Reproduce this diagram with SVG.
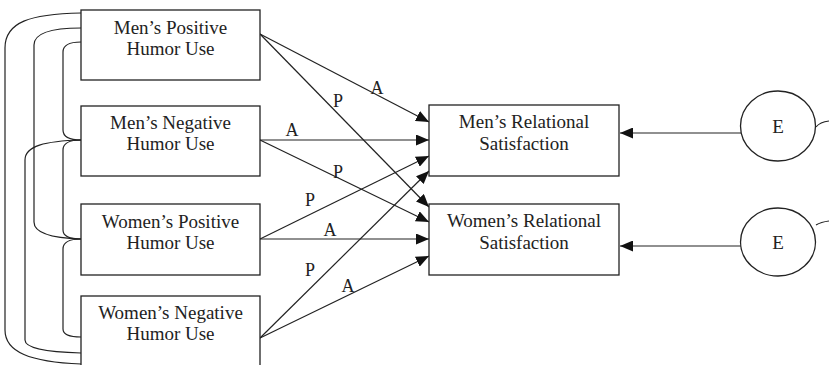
<svg xmlns="http://www.w3.org/2000/svg" width="829" height="365" viewBox="0 0 829 365">
<style>
.box{fill:#fff;stroke:#222;stroke-width:1.3}
.lbl{font-family:"Liberation Serif","DejaVu Serif",serif;font-size:19px;fill:#222;text-anchor:middle}
.pa{font-family:"Liberation Serif","DejaVu Serif",serif;font-size:18px;fill:#222;text-anchor:middle}
.ln{fill:none;stroke:#222;stroke-width:1.2}
</style>
<defs>
<marker id="ah" markerUnits="userSpaceOnUse" markerWidth="13" markerHeight="11" refX="13" refY="5.5" orient="auto">
<path d="M0,0 L13,5.5 L0,11 z" fill="#111"/>
</marker>
</defs>
<rect width="829" height="365" fill="#fff"/>
<g id="connectors">
<path class="ln" d="M81,13 C30,14 5,22 5,48 V330 C5,352 30,362 81,364"/>
<path class="ln" d="M81,28 C50,28 34,33 34,45 V222 C34,233 50,238 81,239"/>
<path class="ln" d="M81,42 C70,42 63,45 63,52 V130 C63,137 70,140 81,140"/>
<path class="ln" d="M81,140 C45,141 25,146 25,160 V340 C25,348 45,352 81,353"/>
<path class="ln" d="M81,140 C70,140 63,143 63,150 V230 C63,236 70,239 81,239"/>
<path class="ln" d="M81,239 C70,239 63,242 63,249 V329 C63,335 70,337 81,337"/>
<line class="ln" x1="260" y1="34" x2="429" y2="122" marker-end="url(#ah)"/>
<line class="ln" x1="260" y1="34" x2="429" y2="207" marker-end="url(#ah)"/>
<line class="ln" x1="260" y1="140" x2="429" y2="140" marker-end="url(#ah)"/>
<line class="ln" x1="260" y1="140" x2="429" y2="222" marker-end="url(#ah)"/>
<line class="ln" x1="260" y1="239" x2="429" y2="156" marker-end="url(#ah)"/>
<line class="ln" x1="260" y1="239" x2="429" y2="239" marker-end="url(#ah)"/>
<line class="ln" x1="260" y1="338" x2="429" y2="171" marker-end="url(#ah)"/>
<line class="ln" x1="260" y1="338" x2="429" y2="256" marker-end="url(#ah)"/>
<line class="ln" x1="741" y1="133" x2="620" y2="133" marker-end="url(#ah)"/>
<line class="ln" x1="741" y1="246" x2="620" y2="246" marker-end="url(#ah)"/>
<path class="ln" d="M816,127 Q820,122 829,121"/>
<path class="ln" d="M816,225 Q821,222 829,221"/>
<text class="pa" x="377" y="94">A</text>
<text class="pa" x="338" y="107">P</text>
<text class="pa" x="292" y="136">A</text>
<text class="pa" x="338" y="178">P</text>
<text class="pa" x="310" y="206">P</text>
<text class="pa" x="330" y="236">A</text>
<text class="pa" x="310" y="276">P</text>
<text class="pa" x="348" y="292">A</text>
</g>
<g id="mpos"><rect class="box" x="81" y="10" width="179" height="70"/><text class="lbl" x="170.5" y="34">Men’s Positive</text><text class="lbl" x="170.5" y="55">Humor Use</text></g>
<g id="mneg"><rect class="box" x="81" y="106" width="179" height="70"/><text class="lbl" x="170.5" y="129">Men’s Negative</text><text class="lbl" x="170.5" y="150">Humor Use</text></g>
<g id="wpos"><rect class="box" x="81" y="204" width="179" height="71"/><text class="lbl" x="170.5" y="228">Women’s Positive</text><text class="lbl" x="170.5" y="249">Humor Use</text></g>
<g id="wneg"><rect class="box" x="81" y="296" width="179" height="72"/><text class="lbl" x="170.5" y="319">Women’s Negative</text><text class="lbl" x="170.5" y="340">Humor Use</text></g>
<g id="msat"><rect class="box" x="429" y="105" width="190" height="71"/><text class="lbl" x="524" y="128">Men’s Relational</text><text class="lbl" x="524" y="150">Satisfaction</text></g>
<g id="wsat"><rect class="box" x="429" y="204" width="190" height="71"/><text class="lbl" x="524" y="227">Women’s Relational</text><text class="lbl" x="524" y="249">Satisfaction</text></g>
<g id="e1"><ellipse class="box" cx="778" cy="126" rx="37.5" ry="35"/><text class="lbl" x="778" y="133">E</text></g>
<g id="e2"><ellipse class="box" cx="778" cy="242" rx="37.5" ry="34"/><text class="lbl" x="778" y="249">E</text></g>
</svg>
